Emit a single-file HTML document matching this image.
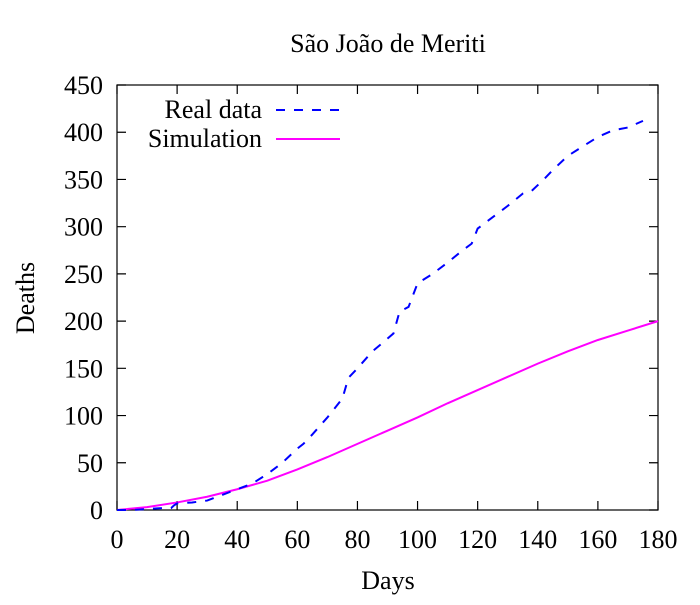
<!DOCTYPE html>
<html><head><meta charset="utf-8"><style>
body{margin:0;background:#fff}
svg text{font-family:"Liberation Serif",serif;fill:#000}
</style></head><body>
<svg id="chart" width="700" height="600" xmlns="http://www.w3.org/2000/svg"></svg>
<script>
const realDays=[0,5,10,15,18,19,20,25,30,35,40,45,50,55,60,62,65,70,75,77,80,85,88,92,94,97,100,105,110,115,118,120,125,130,135,138,142,145,150,155,160,165,170,175];
const realDeaths=[0,0,1,2,2,5,7,8,10,16,22,28,38,50,65,70,80,98,118,140,150,168,176,187,210,215,240,250,262,275,282,298,310,322,335,338,350,360,375,385,395,402,405,412];
const simDays=[0,10,20,30,40,50,60,70,80,90,100,110,120,130,140,150,160,170,180];
const simDeaths=[0,3,8,14,22,31,43,56,70,84,98,113,127,141,155,168,180,190,200];
const xTicks=[0,20,40,60,80,100,120,140,160,180];
const yTicks=[0,50,100,150,200,250,300,350,400,450];
const L=117,R=658,T=85,B=510;
const xs=d=>L+(R-L)*d/180, ys=v=>B-(B-T)*v/450;
const svg=document.getElementById('chart');
const NS='http://www.w3.org/2000/svg';
function mk(tag,attrs,txt){const e=document.createElementNS(NS,tag);for(const k in attrs)e.setAttribute(k,attrs[k]);if(txt!==undefined)e.textContent=txt;svg.appendChild(e);return e;}
let e;
e=mk('rect',{x:L,y:T,width:R-L,height:B-T,fill:'none',stroke:'#000','stroke-width':1.2});


xTicks.forEach(t=>{const x=xs(t);
 e=mk('path',{d:`M${x},${B}v-9M${x},${T}v9`,stroke:'#000','stroke-width':1.2});
 
 
 e=mk('text',{x:x,y:B+38,'text-anchor':'middle','font-size':26},t);
 
 
});
yTicks.forEach(t=>{const y=ys(t);
 e=mk('path',{d:`M${L},${y}h9M${R},${y}h-9`,stroke:'#000','stroke-width':1.2});
 
 
 e=mk('text',{x:L-14,y:y+9,'text-anchor':'end','font-size':26},t);
 
 
});
e=mk('text',{x:388,y:52,'text-anchor':'middle','font-size':26},'São João de Meriti');


e=mk('text',{x:388,y:589,'text-anchor':'middle','font-size':26},'Days');


e=mk('text',{x:34,y:298,'text-anchor':'middle','font-size':26,transform:'rotate(-90 34 298)'},'Deaths');


e=mk('polyline',{points:simDays.map((d,i)=>xs(d)+','+ys(simDeaths[i])).join(' '),fill:'none',stroke:'#ff00ff','stroke-width':2});


e=mk('polyline',{points:realDays.map((d,i)=>xs(d)+','+ys(realDeaths[i])).join(' '),fill:'none',stroke:'#0000ff','stroke-width':2,'stroke-dasharray':'9,9'});


e=mk('text',{x:262,y:118,'text-anchor':'end','font-size':26},'Real data');


e=mk('path',{d:'M276,110H340',stroke:'#0000ff','stroke-width':2,'stroke-dasharray':'9,9'});


e=mk('text',{x:262,y:147,'text-anchor':'end','font-size':26},'Simulation');


e=mk('path',{d:'M276,139H340',stroke:'#ff00ff','stroke-width':2});


</script>
</body></html>
